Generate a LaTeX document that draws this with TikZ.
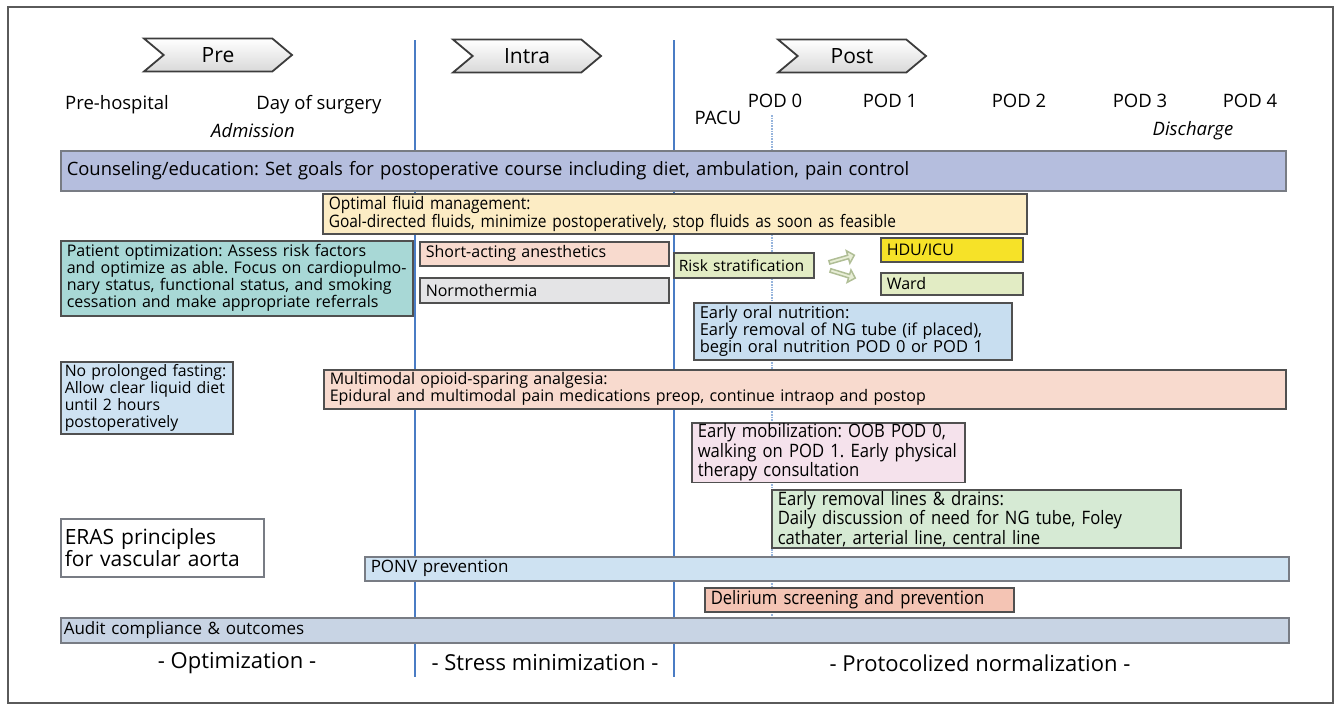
\documentclass[tikz,border=0pt]{standalone}
\usepackage{fontspec}
\setmainfont{Open Sans}
\newfontfamily\condensed[FakeStretch=0.9]{Open Sans}
\usetikzlibrary{shapes.symbols,shapes.arrows}
\frenchspacing

\definecolor{boxline}{RGB}{80,80,80}
\definecolor{barline}{RGB}{120,124,132}
\definecolor{chevline}{RGB}{60,60,60}
\definecolor{divblue}{RGB}{74,124,196}
\definecolor{podblue}{RGB}{150,180,220}
\definecolor{framegray}{RGB}{90,90,90}
\definecolor{counselfill}{RGB}{181,190,222}
\definecolor{fluidfill}{RGB}{252,236,196}
\definecolor{patientfill}{RGB}{168,216,214}
\definecolor{fastfill}{RGB}{206,226,242}
\definecolor{peachfill}{RGB}{248,218,206}
\definecolor{normofill}{RGB}{228,228,230}
\definecolor{riskfill}{RGB}{226,236,196}
\definecolor{icufill}{RGB}{246,226,40}
\definecolor{oralfill}{RGB}{200,222,240}
\definecolor{mobilfill}{RGB}{245,226,236}
\definecolor{linesfill}{RGB}{214,234,212}
\definecolor{delirfill}{RGB}{244,196,180}
\definecolor{auditfill}{RGB}{200,212,228}
\definecolor{swapfill}{RGB}{232,238,214}
\definecolor{swapline}{RGB}{176,190,150}

\begin{document}
\begin{tikzpicture}[x=1pt, y=-1pt,
    box/.style={draw=boxline, line width=1.5pt, anchor=north west, align=left, inner xsep=6pt, inner ysep=1pt, font=\fontsize{16}{17}\selectfont},
    cbox/.style={box, font=\condensed\fontsize{18.5}{18}\selectfont},
    bar/.style={box, draw=barline},
    phase/.style={signal, signal from=west, signal to=east, signal pointer angle=80, draw=chevline, line width=1.8pt, top color=white, bottom color=black!15, minimum width=148pt, minimum height=33pt, inner sep=0pt, font=\fontsize{21}{24}\selectfont},
    stamp/.style={font=\fontsize{18.5}{21}\selectfont},
    motto/.style={font=\fontsize{22}{25}\selectfont},
    divider/.style={draw=divblue, line width=2pt},
    swap/.style={single arrow, draw=swapline, fill=swapfill, line width=1.5pt, minimum height=26pt, minimum width=13pt, single arrow head extend=2pt, inner sep=0pt}
]
\useasboundingbox (0,0) rectangle (1340,704);
\draw[draw=framegray, line width=1.2pt] (8,7) rectangle (1333,703);

\draw[divider] (415,40) -- (415,677);
\draw[divider] (674,40) -- (674,677);
\draw[draw=podblue, line width=1.6pt, densely dotted] (772,115) -- (772,645);

\node[phase] (pre) at (218,55) {Pre};
\node[phase] (intra) at (527,56) {Intra};
\node[phase] (post) at (852,56) {Post};

\node[stamp] (prehosp) at (117,105) {Pre-hospital};
\node[stamp] (surgday) at (319,105) {Day of surgery};
\node[stamp, font=\fontsize{18.5}{21}\selectfont\itshape] (admit) at (253,131) {Admission};
\node[stamp] (pacu) at (718,118) {PACU};
\foreach \d/\x in {0/775,1/890,2/1019,3/1140,4/1250}
  \node[stamp] (pod\d) at (\x,101) {POD \d};
\node[stamp, font=\fontsize{18.5}{21}\selectfont\itshape] (discharge) at (1193,131) {Discharge};

\node[bar, fill=counselfill, text width=1213pt, minimum height=40pt, font=\fontsize{18.4}{20}\selectfont] (counsel) at (60,150) {Counseling/education: Set goals for postoperative course including diet, ambulation, pain control};
\node[cbox, fill=fluidfill, text width=692pt, minimum height=40pt, font=\condensed\fontsize{17.2}{17}\selectfont] (fluid) at (322,193) {Optimal fluid management:\\Goal-directed fluids, minimize postoperatively, stop fluids as soon as feasible};

\node[box, fill=patientfill, text width=340pt, minimum height=75pt] (patient) at (60,240) {Patient optimization: Assess risk factors\\and optimize as able. Focus on cardiopulmo-\\nary status, functional status, and smoking\\cessation and make appropriate referrals};
\node[box, fill=peachfill, text width=237pt, minimum height=24pt] (shortact) at (419,241) {Short-acting anesthetics};
\node[box, fill=normofill, text width=237pt, minimum height=25pt] (normo) at (419,277) {Normothermia};
\node[box, fill=riskfill, inner xsep=5pt, text width=130pt, minimum height=25pt, font=\fontsize{15.6}{17}\selectfont] (risk) at (673,252) {Risk stratification};
\node[swap, rotate=16] (toicu) at (841,259) {};
\node[swap, rotate=-17] (toward) at (842,274) {};
\node[box, fill=icufill, text width=130pt, minimum height=24pt] (icu) at (880,237) {HDU/ICU};
\node[box, fill=riskfill, text width=130pt, minimum height=22pt] (ward) at (880,272) {Ward};
\node[box, fill=oralfill, text width=306pt, minimum height=57pt, font=\fontsize{16.5}{17}\selectfont] (oral) at (693,302) {Early oral nutrition:\\Early removal of NG tube (if placed),\\begin oral nutrition POD 0 or POD 1};

\node[box, fill=fastfill, inner xsep=4pt, text width=164pt, minimum height=72pt, font=\fontsize{15.8}{17}\selectfont] (fasting) at (60,361) {No prolonged fasting:\\Allow clear liquid diet\\until 2 hours\\postoperatively};
\node[box, fill=peachfill, text width=950pt, minimum height=39pt] (analgesia) at (323,369) {Multimodal opioid-sparing analgesia:\\Epidural and multimodal pain medications preop, continue intraop and postop};

\node[cbox, fill=mobilfill, text width=261pt, minimum height=56pt] (mobil) at (691,422) {Early mobilization: OOB POD 0,\\walking on POD 1. Early physical\\therapy consultation};
\node[cbox, fill=linesfill, text width=397pt, minimum height=58pt] (drains) at (771,489) {Early removal lines \& drains:\\Daily discussion of need for NG tube, Foley\\cathater, arterial line, central line};

\node[box, draw=barline, fill=white, inner xsep=4pt, text width=195pt, minimum height=58pt, font=\fontsize{21}{21}\selectfont] (eras) at (60,518) {ERAS principles\\for vascular aorta};
\node[bar, fill=fastfill, text width=912pt, minimum height=24pt, font=\fontsize{17}{18}\selectfont] (ponv) at (364,556) {PONV prevention};
\node[cbox, fill=delirfill, text width=297pt, minimum height=24pt] (delir) at (704,587) {Delirium screening and prevention};
\node[bar, fill=auditfill, inner xsep=3pt, text width=1222pt, minimum height=25pt, font=\fontsize{17}{18}\selectfont] (audit) at (60,617) {Audit compliance \& outcomes};

\node[motto] (optim) at (237,663) {- Optimization -};
\node[motto] (stress) at (545,663) {- Stress minimization -};
\node[motto] (normal) at (980,663) {- Protocolized normalization -};
\end{tikzpicture}
\end{document}
